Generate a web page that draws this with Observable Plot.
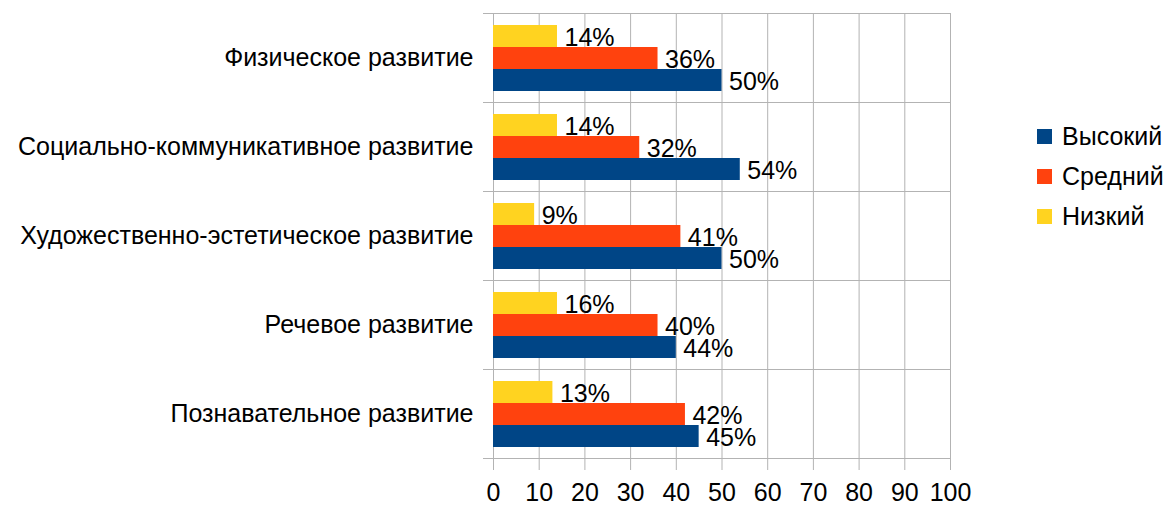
<!DOCTYPE html>
<html>
<head>
<meta charset="utf-8">
<script src="https://cdn.jsdelivr.net/npm/d3@7"></script>
<script src="https://cdn.jsdelivr.net/npm/@observablehq/plot@0.6"></script>
<style>
  html, body { margin: 0; padding: 0; background: #fff; }
  #wrap { position: relative; width: 1168px; height: 508px; font-family: "Liberation Sans", Arial, sans-serif; }
  #legend { position: absolute; left: 1037px; top: 116px; font-size: 25px; color: #000; }
  .item { display: flex; align-items: center; height: 40px; }
  .sw { width: 15px; height: 15px; margin-right: 10px; }
</style>
</head>
<body>
<div id="wrap"><div id="chart"></div><div id="legend"></div></div>
<script>
const categories = [
  "Физическое развитие",
  "Социально-коммуникативное развитие",
  "Художественно-эстетическое развитие",
  "Речевое развитие",
  "Познавательное развитие"
];
const seriesNames = ["Высокий", "Средний", "Низкий"];
const seriesColors = ["#004586", "#ff420e", "#ffd320"];
const highValues = [50, 54, 50, 40, 45];
const midValues = [36, 32, 41, 36, 42];
const lowValues = [14, 14, 9, 14, 13];
const highLabels = ["50%", "54%", "50%", "44%", "45%"];
const midLabels = ["36%", "32%", "41%", "40%", "42%"];
const lowLabels = ["14%", "14%", "9%", "16%", "13%"];
const xTicks = [0, 10, 20, 30, 40, 50, 60, 70, 80, 90, 100];

const valuesBySeries = [highValues, midValues, lowValues];
const labelsBySeries = [highLabels, midLabels, lowLabels];
const data = [];
seriesNames.forEach((s, si) => {
  categories.forEach((c, ci) => {
    data.push({category: c, series: s, value: valuesBySeries[si][ci], label: labelsBySeries[si][ci]});
  });
});

const grid = "#b3b3b3";
const chart = Plot.plot({
  width: 1168,
  height: 508,
  marginLeft: 493,
  marginRight: 218,
  marginTop: 12,
  marginBottom: 50,
  style: {fontFamily: "Liberation Sans, Arial, sans-serif", background: "#fff", color: "#000"},
  x: {domain: [0, 100]},
  y: {domain: ["Низкий", "Средний", "Высокий"], paddingInner: 0, paddingOuter: 0.465, axis: null},
  fy: {domain: categories, padding: 0},
  color: {domain: seriesNames, range: seriesColors},
  marks: [
    Plot.gridX(xTicks, {stroke: grid, strokeOpacity: 1}),
    Plot.frame({anchor: "top", stroke: grid, insetLeft: -10}),
    Plot.frame({anchor: "bottom", stroke: grid, insetLeft: -10}),
    Plot.frame({anchor: "left", stroke: grid}),
    Plot.barX(data, {fy: "category", y: "series", x: "value", fill: "series"}),
    Plot.text(data, {fy: "category", y: "series", x: "value", text: "label", textAnchor: "start", dx: 7, dy: 1, fontSize: 25, fill: "#000"}),
    Plot.axisX(xTicks, {anchor: "bottom", tickSize: 12, tickPadding: 13, fontSize: 25, stroke: grid, fill: "#000", label: null, tickFormat: d => String(d)}),
    Plot.axisFy({anchor: "left", tickSize: 0, tickPadding: 20, fontSize: 25, label: null})
  ]
});
document.getElementById("chart").appendChild(chart);

const legend = document.getElementById("legend");
seriesNames.forEach((s, i) => {
  const item = document.createElement("div");
  item.className = "item";
  const sw = document.createElement("div");
  sw.className = "sw";
  sw.style.background = seriesColors[i];
  const t = document.createElement("span");
  t.textContent = s;
  item.appendChild(sw);
  item.appendChild(t);
  legend.appendChild(item);
});
</script>
</body>
</html>
